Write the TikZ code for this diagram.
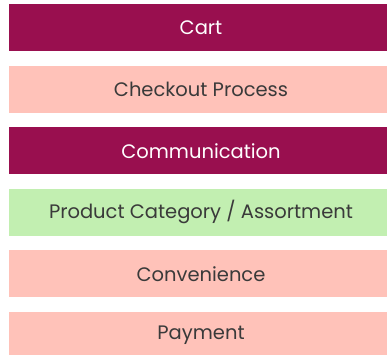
\documentclass[tikz,border=0pt]{standalone}
\usepackage{fontspec}
\setmainfont{Poppins}
\usepackage{xcolor}
\usetikzlibrary{positioning}

\definecolor{berry}{HTML}{990F4F}
\definecolor{salmon}{HTML}{FFC2B9}
\definecolor{mint}{HTML}{C2EFB1}
\definecolor{ink}{HTML}{3A3A3A}

\begin{document}
\begin{tikzpicture}[
        node distance=14.2pt,
        bar/.style={rectangle, inner sep=0pt, minimum width=384pt, minimum height=47pt, font=\fontsize{19.5}{22}\selectfont, text=ink},
        dark/.style={bar, fill=berry, text=white},
        soft/.style={bar, fill=salmon},
        fresh/.style={bar, fill=mint}]

        \useasboundingbox (0,0) rectangle (387pt,-354pt);

        % Categories
        \node[dark] (cart) at (201pt,-27.5pt) {Cart};
        \node[soft, below=of cart] (checkout) {Checkout Process};
        \node[dark, below=of checkout] (comm) {Communication};
        \node[fresh, below=of comm] (assort) {Product Category / Assortment};
        \node[soft, below=of assort] (conv) {Convenience};
        \node[soft, below=of conv] (pay) {Payment};

    \end{tikzpicture}
\end{document}
